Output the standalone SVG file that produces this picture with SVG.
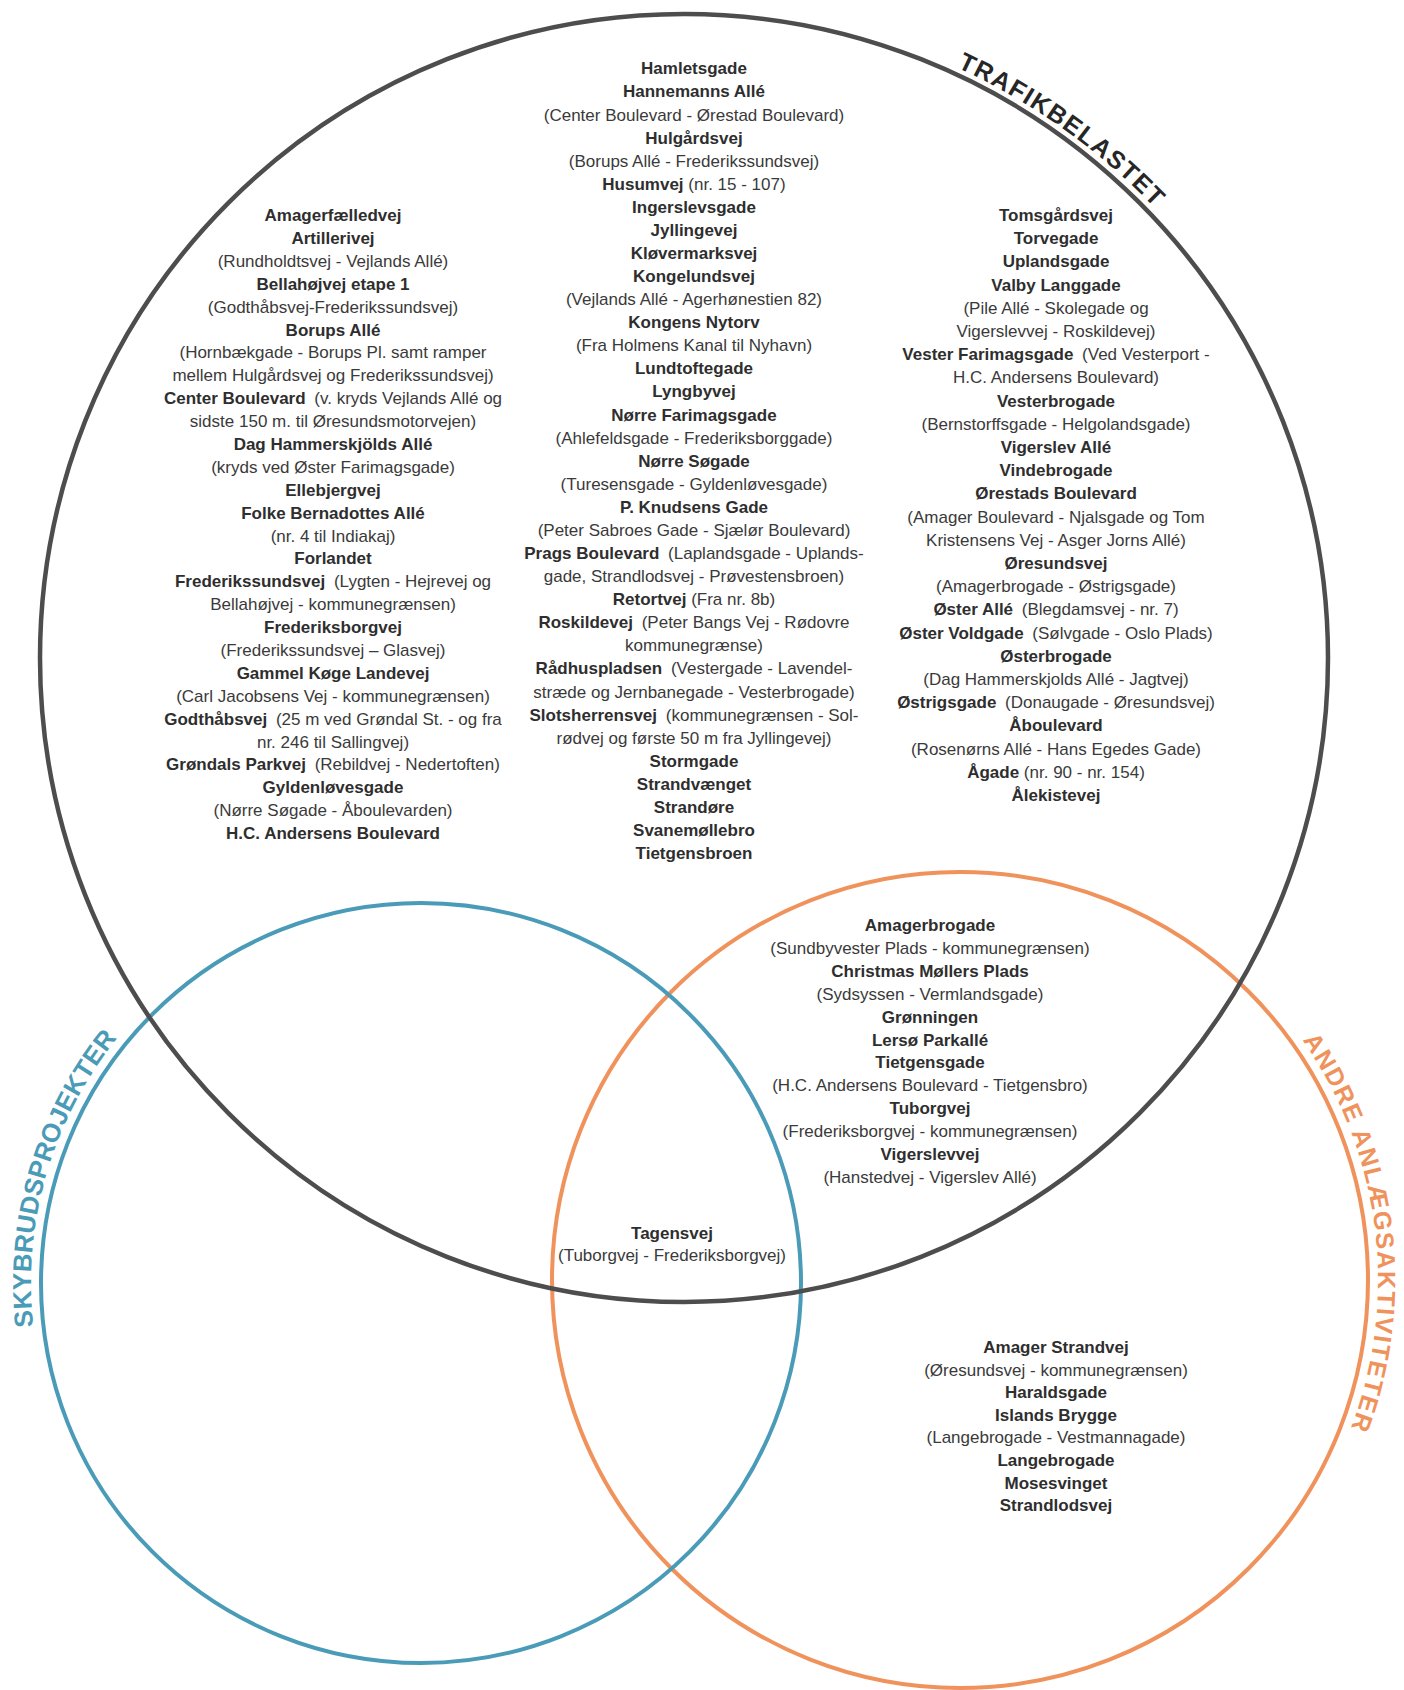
<svg xmlns="http://www.w3.org/2000/svg" width="1404" height="1690" viewBox="0 0 1404 1690">
<style>
text{font-family:"Liberation Sans",Arial,sans-serif;font-size:17px;text-anchor:middle}
.b{font-weight:700;fill:#2e2e2e}
.r{font-weight:400;fill:#3a3a3a}
text.lbl{font-weight:700;text-anchor:start}
.lt{font-size:25px;letter-spacing:1.5px;fill:#262626}
.lb{font-size:26px;letter-spacing:0.2px;fill:#4a9bb7}
.lo{font-size:25px;letter-spacing:1.6px;fill:#f0925c}
.ring{fill:none}
</style>
<defs>
<path id="pDark" d="M957,67.5 A653,653 0 0 1 1327.1,544.6"/>
<path id="pBlue" d="M33.4,1326.5 A390,390 0 0 1 353.3,898.9"/>
<path id="pOrange" d="M1302.4,1040.2 A418,418 0 0 1 1169,1642"/>
</defs>
<rect width="1404" height="1690" fill="#ffffff"/>
<g id="connectors">
<circle class="ring" cx="960" cy="1280" r="408" stroke="#f0925c" stroke-width="4"/>
<circle class="ring" cx="421" cy="1283" r="380" stroke="#4a9bb7" stroke-width="4"/>
<circle class="ring" cx="684" cy="658" r="644" stroke="#4d4d4d" stroke-width="4.5"/>
</g>
<g id="labels">
<text class="lbl lt"><textPath href="#pDark">TRAFIKBELASTET</textPath></text>
<text class="lbl lb"><textPath href="#pBlue">SKYBRUDSPROJEKTER</textPath></text>
<text class="lbl lo"><textPath href="#pOrange">ANDRE ANLÆGSAKTIVITETER</textPath></text>
</g>
<g id="trafik-left">
<text x="333" y="221.0" class="b">Amagerfælledvej</text>
<text x="333" y="243.9" class="b">Artillerivej</text>
<text x="333" y="266.8" class="r">(Rundholdtsvej - Vejlands Allé)</text>
<text x="333" y="289.7" class="b">Bellahøjvej etape 1</text>
<text x="333" y="312.6" class="r">(Godthåbsvej-Frederikssundsvej)</text>
<text x="333" y="335.5" class="b">Borups Allé</text>
<text x="333" y="358.3" class="r">(Hornbækgade - Borups Pl. samt ramper</text>
<text x="333" y="381.2" class="r">mellem Hulgårdsvej og Frederikssundsvej)</text>
<text x="333" y="404.1"><tspan class="b">Center Boulevard</tspan><tspan class="r" dx="4"> (v. kryds Vejlands Allé og</tspan></text>
<text x="333" y="427.0" class="r">sidste 150 m. til Øresundsmotorvejen)</text>
<text x="333" y="449.9" class="b">Dag Hammerskjölds Allé</text>
<text x="333" y="472.8" class="r">(kryds ved Øster Farimagsgade)</text>
<text x="333" y="495.7" class="b">Ellebjergvej</text>
<text x="333" y="518.6" class="b">Folke Bernadottes Allé</text>
<text x="333" y="541.5" class="r">(nr. 4 til Indiakaj)</text>
<text x="333" y="564.4" class="b">Forlandet</text>
<text x="333" y="587.3"><tspan class="b">Frederikssundsvej</tspan><tspan class="r" dx="4"> (Lygten - Hejrevej og</tspan></text>
<text x="333" y="610.2" class="r">Bellahøjvej - kommunegrænsen)</text>
<text x="333" y="633.1" class="b">Frederiksborgvej</text>
<text x="333" y="656.0" class="r">(Frederikssundsvej – Glasvej)</text>
<text x="333" y="678.8" class="b">Gammel Køge Landevej</text>
<text x="333" y="701.7" class="r">(Carl Jacobsens Vej - kommunegrænsen)</text>
<text x="333" y="724.6"><tspan class="b">Godthåbsvej</tspan><tspan class="r" dx="4"> (25 m ved Grøndal St. - og fra</tspan></text>
<text x="333" y="747.5" class="r">nr. 246 til Sallingvej)</text>
<text x="333" y="770.4"><tspan class="b">Grøndals Parkvej</tspan><tspan class="r" dx="4"> (Rebildvej - Nedertoften)</tspan></text>
<text x="333" y="793.3" class="b">Gyldenløvesgade</text>
<text x="333" y="816.2" class="r">(Nørre Søgade - Åboulevarden)</text>
<text x="333" y="839.1" class="b">H.C. Andersens Boulevard</text>
</g>
<g id="trafik-center">
<text x="694" y="74.3" class="b">Hamletsgade</text>
<text x="694" y="97.4" class="b">Hannemanns Allé</text>
<text x="694" y="120.5" class="r">(Center Boulevard - Ørestad Boulevard)</text>
<text x="694" y="143.5" class="b">Hulgårdsvej</text>
<text x="694" y="166.6" class="r">(Borups Allé - Frederikssundsvej)</text>
<text x="694" y="189.7"><tspan class="b">Husumvej</tspan><tspan class="r"> (nr. 15 - 107)</tspan></text>
<text x="694" y="212.8" class="b">Ingerslevsgade</text>
<text x="694" y="235.9" class="b">Jyllingevej</text>
<text x="694" y="258.9" class="b">Kløvermarksvej</text>
<text x="694" y="282.0" class="b">Kongelundsvej</text>
<text x="694" y="305.1" class="r">(Vejlands Allé - Agerhønestien 82)</text>
<text x="694" y="328.2" class="b">Kongens Nytorv</text>
<text x="694" y="351.3" class="r">(Fra Holmens Kanal til Nyhavn)</text>
<text x="694" y="374.3" class="b">Lundtoftegade</text>
<text x="694" y="397.4" class="b">Lyngbyvej</text>
<text x="694" y="420.5" class="b">Nørre Farimagsgade</text>
<text x="694" y="443.6" class="r">(Ahlefeldsgade - Frederiksborggade)</text>
<text x="694" y="466.7" class="b">Nørre Søgade</text>
<text x="694" y="489.7" class="r">(Turesensgade - Gyldenløvesgade)</text>
<text x="694" y="512.8" class="b">P. Knudsens Gade</text>
<text x="694" y="535.9" class="r">(Peter Sabroes Gade - Sjælør Boulevard)</text>
<text x="694" y="559.0"><tspan class="b">Prags Boulevard</tspan><tspan class="r" dx="4"> (Laplandsgade - Uplands-</tspan></text>
<text x="694" y="582.1" class="r">gade, Strandlodsvej - Prøvestensbroen)</text>
<text x="694" y="605.2"><tspan class="b">Retortvej</tspan><tspan class="r"> (Fra nr. 8b)</tspan></text>
<text x="694" y="628.2"><tspan class="b">Roskildevej</tspan><tspan class="r" dx="4"> (Peter Bangs Vej - Rødovre</tspan></text>
<text x="694" y="651.3" class="r">kommunegrænse)</text>
<text x="694" y="674.4"><tspan class="b">Rådhuspladsen</tspan><tspan class="r" dx="4"> (Vestergade - Lavendel-</tspan></text>
<text x="694" y="697.5" class="r">stræde og Jernbanegade - Vesterbrogade)</text>
<text x="694" y="720.6"><tspan class="b">Slotsherrensvej</tspan><tspan class="r" dx="4"> (kommunegrænsen - Sol-</tspan></text>
<text x="694" y="743.6" class="r">rødvej og første 50 m fra Jyllingevej)</text>
<text x="694" y="766.7" class="b">Stormgade</text>
<text x="694" y="789.8" class="b">Strandvænget</text>
<text x="694" y="812.9" class="b">Strandøre</text>
<text x="694" y="836.0" class="b">Svanemøllebro</text>
<text x="694" y="859.0" class="b">Tietgensbroen</text>
</g>
<g id="trafik-right">
<text x="1056" y="221.0" class="b">Tomsgårdsvej</text>
<text x="1056" y="244.2" class="b">Torvegade</text>
<text x="1056" y="267.4" class="b">Uplandsgade</text>
<text x="1056" y="290.6" class="b">Valby Langgade</text>
<text x="1056" y="313.8" class="r">(Pile Allé - Skolegade og</text>
<text x="1056" y="337.0" class="r">Vigerslevvej - Roskildevej)</text>
<text x="1056" y="360.2"><tspan class="b">Vester Farimagsgade</tspan><tspan class="r" dx="4"> (Ved Vesterport -</tspan></text>
<text x="1056" y="383.4" class="r">H.C. Andersens Boulevard)</text>
<text x="1056" y="406.6" class="b">Vesterbrogade</text>
<text x="1056" y="429.8" class="r">(Bernstorffsgade - Helgolandsgade)</text>
<text x="1056" y="453.0" class="b">Vigerslev Allé</text>
<text x="1056" y="476.2" class="b">Vindebrogade</text>
<text x="1056" y="499.4" class="b">Ørestads Boulevard</text>
<text x="1056" y="522.6" class="r">(Amager Boulevard - Njalsgade og Tom</text>
<text x="1056" y="545.8" class="r">Kristensens Vej - Asger Jorns Allé)</text>
<text x="1056" y="569.0" class="b">Øresundsvej</text>
<text x="1056" y="592.2" class="r">(Amagerbrogade - Østrigsgade)</text>
<text x="1056" y="615.4"><tspan class="b">Øster Allé</tspan><tspan class="r" dx="4"> (Blegdamsvej - nr. 7)</tspan></text>
<text x="1056" y="638.6"><tspan class="b">Øster Voldgade</tspan><tspan class="r" dx="4"> (Sølvgade - Oslo Plads)</tspan></text>
<text x="1056" y="661.8" class="b">Østerbrogade</text>
<text x="1056" y="685.0" class="r">(Dag Hammerskjolds Allé - Jagtvej)</text>
<text x="1056" y="708.2"><tspan class="b">Østrigsgade</tspan><tspan class="r" dx="4"> (Donaugade - Øresundsvej)</tspan></text>
<text x="1056" y="731.4" class="b">Åboulevard</text>
<text x="1056" y="754.6" class="r">(Rosenørns Allé - Hans Egedes Gade)</text>
<text x="1056" y="777.8"><tspan class="b">Ågade</tspan><tspan class="r"> (nr. 90 - nr. 154)</tspan></text>
<text x="1056" y="801.0" class="b">Ålekistevej</text>
</g>
<g id="trafik-andre">
<text x="930" y="931.0" class="b">Amagerbrogade</text>
<text x="930" y="953.9" class="r">(Sundbyvester Plads - kommunegrænsen)</text>
<text x="930" y="976.8" class="b">Christmas Møllers Plads</text>
<text x="930" y="999.7" class="r">(Sydsyssen - Vermlandsgade)</text>
<text x="930" y="1022.6" class="b">Grønningen</text>
<text x="930" y="1045.5" class="b">Lersø Parkallé</text>
<text x="930" y="1068.4" class="b">Tietgensgade</text>
<text x="930" y="1091.3" class="r">(H.C. Andersens Boulevard - Tietgensbro)</text>
<text x="930" y="1114.2" class="b">Tuborgvej</text>
<text x="930" y="1137.1" class="r">(Frederiksborgvej - kommunegrænsen)</text>
<text x="930" y="1160.0" class="b">Vigerslevvej</text>
<text x="930" y="1182.9" class="r">(Hanstedvej - Vigerslev Allé)</text>
</g>
<g id="all-three">
<text x="672" y="1239.3" class="b">Tagensvej</text>
<text x="672" y="1261.0" class="r">(Tuborgvej - Frederiksborgvej)</text>
</g>
<g id="andre">
<text x="1056" y="1353.0" class="b">Amager Strandvej</text>
<text x="1056" y="1375.6" class="r">(Øresundsvej - kommunegrænsen)</text>
<text x="1056" y="1398.2" class="b">Haraldsgade</text>
<text x="1056" y="1420.8" class="b">Islands Brygge</text>
<text x="1056" y="1443.4" class="r">(Langebrogade - Vestmannagade)</text>
<text x="1056" y="1466.0" class="b">Langebrogade</text>
<text x="1056" y="1488.6" class="b">Mosesvinget</text>
<text x="1056" y="1511.2" class="b">Strandlodsvej</text>
</g>
</svg>
